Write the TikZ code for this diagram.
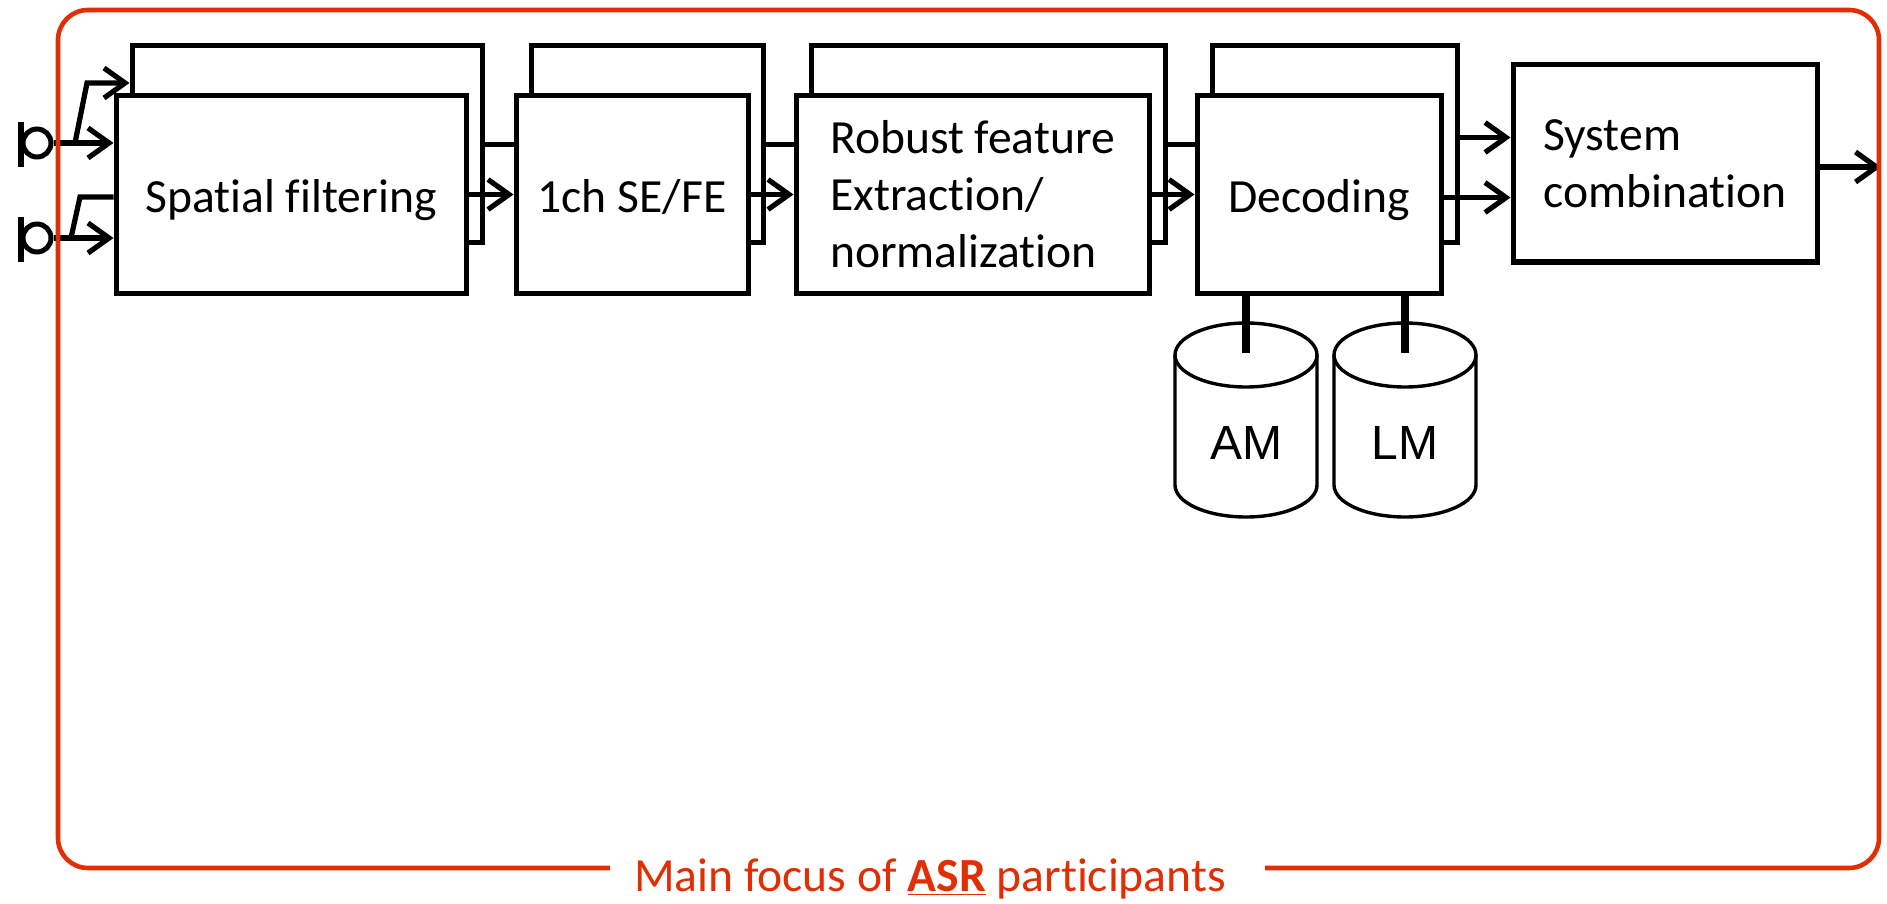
\documentclass[tikz,border=0pt]{standalone}
\usepackage{fontspec}
\setmainfont{Carlito}[Ligatures=NoCommon]
\newfontfamily\armfont{Liberation Sans}
\usetikzlibrary{arrows.meta}
\definecolor{focusred}{RGB}{226,46,4}
\begin{document}
\begin{tikzpicture}[x=0.5pt,y=-0.5pt,
  blk/.style={draw, fill=white, line width=2.5pt, inner sep=0pt, line join=miter,
    minimum height=98.5pt, font=\fontsize{23.8}{28.5}\selectfont, align=left},
  oneline/.style={text height=18.5pt, text depth=0pt},
  conn/.style={line width=2.6pt},
  arr/.style={conn, -{Straight Barb[length=10.5pt,width=15pt]}},
  stemline/.style={line width=4pt},
  cyl/.style={draw, line width=1.7pt},
  mic/.style={circle, draw, line width=2.5pt, minimum size=14pt, inner sep=0pt},
  framered/.style={draw=focusred, line width=2.3pt, rounded corners=15pt}
]
\useasboundingbox (0,0) rectangle (1887,904);

% back boxes
\node[blk, minimum width=175pt] (sfB) at (307,144.5) {};
\node[blk, minimum width=116pt] (chB) at (647,144.5) {};
\node[blk, minimum width=177pt] (robB) at (988,144.5) {};
\node[blk, minimum width=122.5pt] (decB) at (1334.5,144.5) {};
% front boxes
\node[blk, oneline, minimum width=175pt] (sfF) at (291,194.5) {Spatial filtering};
\node[blk, oneline, minimum width=116pt] (chF) at (632,194.5) {1ch SE/FE};
\node[blk, minimum width=176.5pt] (robF) at (972.5,194.5) {Robust feature\\Extraction/\\normalization};
\node[blk, oneline, minimum width=122pt] (decF) at (1319,194.5) {Decoding};
\node[blk, minimum width=152pt] (sc) at (1665,163.5) {System\\combination};

% microphones
\node[mic] (m1) at (37,143) {};
\node[mic] (m2) at (37,238) {};
\draw[line width=2.8pt] (21,122) -- (21,167);
\draw[line width=2.8pt] (21,217) -- (21,262);

% mic connectors
\coordinate (b1s) at (75,143);
\coordinate (b1k) at (87,83);
\coordinate (b2s) at (71,238);
\coordinate (b2k) at (80,197);
\draw[arr] (m1.east) -- (m1.east -| sfF.west);
\draw[arr, line join=miter] (b1s) -- (b1k) -- (b1k -| sfB.west);
\draw[arr] (m2.east) -- (m2.east -| sfF.west);
\draw[conn, line join=miter] (b2s) -- (b2k) -- (b2k -| sfF.west);

% chain connectors
\draw[conn] (sfB.east) -- (sfB.east -| chF.west);
\draw[arr] (sfF.east) -- (sfF.east -| chF.west);
\draw[conn] (chB.east) -- (chB.east -| robF.west);
\draw[arr] (chF.east) -- (chF.east -| robF.west);
\draw[conn] (robB.east) -- (robB.east -| decF.west);
\draw[arr] (robF.east) -- (robF.east -| decF.west);
\draw[arr] ([yshift=3.5pt]decB.east) -- ([yshift=3.5pt]decB.east -| sc.west);
\draw[arr] ([yshift=-1.5pt]decF.east) -- ([yshift=-1.5pt]decF.east -| sc.west);
\coordinate (out) at (1881,167);
\draw[arr] (sc.east |- out) -- (out);

% databases
\draw[cyl] (1175,355) -- (1175,485) arc[start angle=180, end angle=360, x radius=35.5pt, y radius=16pt] -- (1317,355);
\draw[cyl] (1246,355) ellipse [x radius=35.5pt, y radius=16pt];
\draw[cyl] (1334,355) -- (1334,485) arc[start angle=180, end angle=360, x radius=35.5pt, y radius=16pt] -- (1476,355);
\draw[cyl] (1405,355) ellipse [x radius=35.5pt, y radius=16pt];
\node[font=\armfont\fontsize{24}{28}\selectfont] (am) at (1246,443) {AM};
\node[font=\armfont\fontsize{24}{28}\selectfont] (lm) at (1405,443) {LM};
\coordinate (amtop) at (1246,353);
\coordinate (lmtop) at (1405,353);
\draw[stemline] (decF.south -| amtop) -- (amtop);
\draw[stemline] (decF.south -| lmtop) -- (lmtop);

% focus frame
\draw[framered] (610,868) -- (58,868) -- (58,10) -- (1879,10) -- (1879,868) -- (1265,868);
\node[anchor=base, text=focusred, font=\fontsize{23.8}{28.5}\selectfont, inner sep=0pt] (focus) at (930,891)
  {Main focus of \textbf{\underline{ASR}} participants};
\end{tikzpicture}
\end{document}
